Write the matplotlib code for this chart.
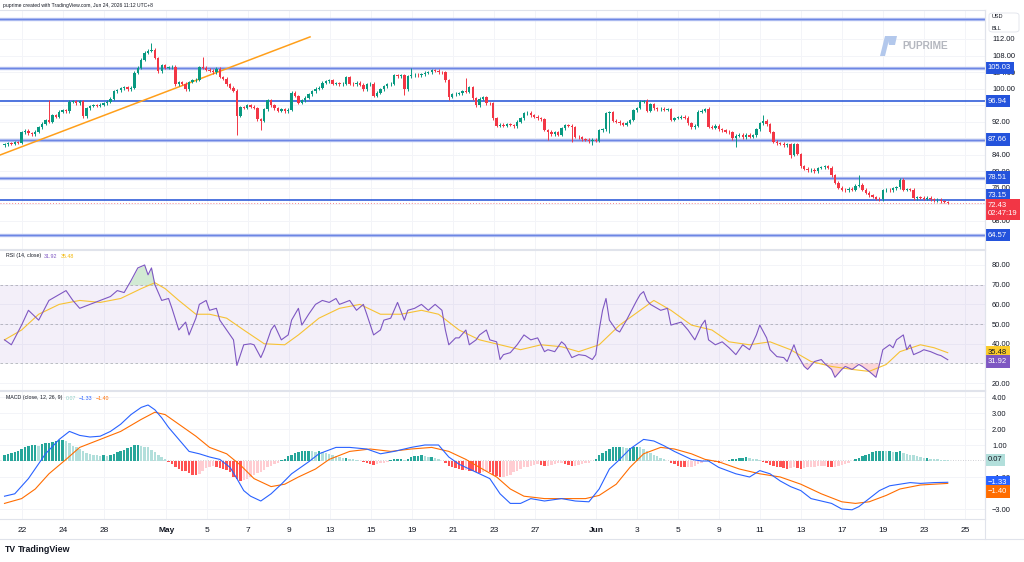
import numpy as np
import matplotlib.pyplot as plt
from matplotlib.patches import Polygon, FancyBboxPatch

plt.rcParams['font.family'] = ['Liberation Sans', 'DejaVu Sans']

# 4h candles, Apr 21 -> Jun 24 (open = previous close)
closes = [
    86.5, 86.8, 86.6, 87.0, 86.9, 89.4, 89.8, 89.2, 89.0, 89.6,
    90.6, 91.5, 92.4, 92.0, 93.6, 93.2, 94.4, 94.8, 94.5, 96.8,
    96.9, 96.5, 97.0, 93.3, 95.2, 95.8, 96.0, 95.8, 96.1, 96.5,
    96.8, 97.5, 99.4, 99.6, 100.1, 100.3, 99.8, 100.2, 103.8, 105.0,
    107.0, 108.7, 109.2, 109.4, 107.4, 104.2, 105.6, 105.0, 105.2, 105.3,
    101.0, 101.5, 101.2, 99.8, 101.6, 102.0, 102.2, 105.2, 105.0, 104.6,
    104.3, 104.0, 104.8, 102.8, 102.4, 101.0, 100.2, 99.5, 93.4, 95.5,
    95.4, 96.0, 95.6, 95.3, 92.6, 92.2, 95.0, 97.2, 96.0, 95.2,
    94.6, 95.0, 94.5, 94.9, 99.0, 98.2, 96.6, 97.2, 97.8, 98.6,
    99.4, 100.0, 100.2, 101.4, 101.8, 102.0, 101.2, 101.3, 101.0, 101.2,
    102.8, 101.2, 101.0, 101.4, 100.9, 99.8, 101.0, 101.2, 98.2, 99.0,
    99.8, 100.6, 101.0, 101.2, 103.3, 103.0, 103.2, 99.8, 103.0, 103.2,
    103.4, 103.2, 103.5, 103.8, 104.0, 104.5, 104.3, 104.0, 103.9, 102.0,
    98.0, 98.6, 98.8, 98.9, 99.4, 99.2, 100.3, 97.7, 96.0, 97.5,
    97.9, 96.5, 96.4, 92.8, 91.0, 91.3, 91.0, 91.4, 91.2, 90.9,
    92.0, 92.8, 94.0, 94.2, 93.5, 93.2, 92.8, 92.6, 90.0, 89.6,
    89.0, 89.4, 88.9, 90.4, 91.2, 91.0, 90.6, 88.4, 88.2, 87.8,
    87.6, 87.3, 87.6, 87.4, 89.9, 90.2, 94.0, 94.3, 92.2, 92.0,
    91.6, 91.2, 91.8, 92.4, 94.8, 95.3, 96.8, 97.0, 94.6, 96.2,
    95.2, 95.0, 95.1, 94.9, 95.0, 92.5, 92.9, 93.0, 93.2, 93.0,
    91.6, 90.6, 91.0, 94.4, 94.6, 95.0, 90.8, 90.5, 91.0, 90.2,
    89.9, 89.6, 89.4, 88.0, 88.6, 88.9, 88.2, 88.8, 88.4, 88.7,
    90.2, 91.6, 92.2, 91.4, 89.5, 87.2, 86.8, 86.7, 86.3, 86.5,
    84.0, 86.6, 84.2, 81.2, 80.6, 80.3, 80.4, 80.0, 80.8, 81.0,
    81.2, 80.9, 79.0, 77.2, 76.0, 75.6, 75.4, 75.8, 75.6, 76.5,
    76.8, 75.6, 74.8, 74.2, 73.8, 73.4, 73.2, 75.4, 75.6, 75.4,
    75.9, 76.2, 78.0, 75.5, 75.7, 75.6, 73.5, 73.7, 73.6, 73.4,
    73.6, 73.2, 73.0, 73.1, 72.8, 72.6, 72.43,
]
first_open = 86.3
long_highs = {13: 97.2, 43: 111.0, 58: 107.6, 119: 105.0, 135: 102.6,
              188: 97.5, 206: 95.6, 222: 93.6, 250: 79.2, 262: 78.3}
long_lows = {68: 88.8, 75: 90.0, 117: 98.5, 130: 97.2, 159: 87.6, 166: 87.2,
             172: 86.3, 177: 89.3, 214: 86.0, 230: 83.2, 256: 72.8}

levels_soft = [116.85, 105.03, 87.66, 78.51, 64.57]
levels_hard = [96.94, 73.15]
trend_x = [-1.3, 89.4]
trend_y = [83.95, 112.5]
last_price = 72.43

# RSI (14) and its MA, read at candle indices
rsi_x = [0, 2, 5, 7, 10, 13, 16, 18, 20, 22, 25, 28, 31, 33, 35, 37, 39, 41, 42, 43, 44, 46, 48, 49,
         51, 53, 54, 56, 57, 59, 60, 62, 63, 65, 67, 68, 70, 72, 73, 75, 76, 78, 79, 81, 83, 84, 86,
         87, 89, 91, 93, 95, 97, 98, 101, 103, 105, 106, 108, 110, 111, 113, 115, 117, 118, 120, 122,
         124, 126, 128, 129, 130, 132, 133, 135, 136, 138, 139, 141, 142, 144, 145, 146, 148, 150, 152,
         154, 156, 158, 159, 161, 163, 164, 166, 168, 170, 172, 173, 174, 175, 176, 177, 179, 180, 182,
         185, 186, 187, 188, 189, 192, 194, 195, 198, 200, 202, 204, 205, 206, 208, 210, 212, 214, 216,
         218, 220, 221, 223, 224, 226, 228, 229, 231, 232, 234, 235, 237, 239, 240, 242, 243, 245, 246,
         248, 250, 251, 253, 255, 256, 257, 259, 260, 261, 263, 264, 265, 266, 268, 269, 271, 273, 274, 276]
rsi_v = [42, 39.5, 49.5, 57, 52, 62, 65, 67, 62, 58, 60, 62, 64, 67, 66, 72, 78.5, 80, 75, 78.5, 70, 62, 63, 58,
         47, 51, 44.5, 53, 60, 62, 57, 58, 52, 47, 42, 29, 39.5, 40, 39.5, 33, 37, 47, 49.5, 42, 44.5, 52, 58,
         49.5, 55, 60, 62, 61, 63, 60, 62, 57, 60, 55, 44.5, 47, 52, 53, 61, 52, 57, 58, 60,
         57, 60, 57, 47, 39.5, 43, 43, 47, 39.5, 42, 44.5, 47, 42, 41, 32, 34.5, 35.5, 39.5, 44.5,
         42, 43, 36, 37, 36, 41, 39.5, 33, 34.5, 34, 32, 34.5, 47, 57, 63, 52, 47, 46, 52,
         62, 65, 66.5, 62, 60, 57, 58, 49.5, 51, 47, 42, 49.5, 52, 42, 39.5, 41, 38, 34.5, 39.5,
         37, 44.5, 49.5, 43, 37, 33.5, 33, 31, 39.5, 34.5, 28.5, 27, 31, 32, 30, 27, 23, 27, 28.5,
         27, 29.5, 28.5, 26, 23, 29.5, 37, 39.5, 38, 42, 44.5, 37, 39.5, 34.5, 36, 37, 36, 34.5, 34, 31.92]
rsi_ma_x = [0, 5, 10, 16, 22, 28, 34, 40, 44, 47, 51, 56, 60, 65, 70, 76, 82, 86, 92, 98, 104, 110, 116,
            122, 127, 133, 139, 145, 151, 157, 163, 168, 174, 180, 186, 190, 195, 201, 207, 212, 218, 224,
            230, 236, 242, 248, 253, 258, 262, 268, 272, 276]
rsi_ma_v = [42, 47, 55, 60, 62, 61, 63, 68, 71, 68, 62, 55, 55, 53, 47, 40, 39.5, 44.5, 53, 58, 60, 55, 55,
            57, 55, 47, 42, 39.5, 37, 39.5, 38.5, 36, 39.5, 49.5, 57, 62, 57, 49.5, 47, 41, 39.5, 41,
            37, 31, 28.5, 27, 26, 29.5, 36, 39.5, 38, 35.48]

# MACD (12, 26, 9)
macd_x = [0, 3, 7, 12, 16, 19, 22, 25, 28, 31, 34, 37, 40, 42, 44, 46, 48, 51, 54, 57, 60, 63, 66, 68, 70,
          72, 75, 78, 81, 84, 86, 89, 92, 97, 101, 106, 110, 114, 119, 123, 127, 130, 133, 136, 139, 142,
          145, 148, 151, 154, 158, 163, 167, 171, 174, 177, 180, 183, 187, 190, 193, 196, 201, 204, 206,
          209, 214, 218, 221, 224, 227, 230, 233, 236, 239, 242, 245, 248, 250, 253, 256, 259, 262, 265,
          268, 272, 276]
macd_v = [-2.2, -2.05, -1.1, 0.45, 1.35, 1.85, 1.6, 1.5, 1.55, 1.85, 2.3, 2.9, 3.35, 3.5, 3.2, 2.7, 2.1, 1.35,
          0.6, 0.45, 0.25, 0.1, -0.4, -1.1, -1.85, -2.2, -2.5, -2.05, -1.45, -0.8, -0.5, -0.05, 0.45, 0.85,
          0.85, 0.75, 0.45, 0.6, 0.85, 1.0, 1.0, 0.25, -0.2, -0.5, -0.8, -1.1, -2.05, -2.65, -2.65, -2.35,
          -2.5, -2.35, -2.5, -2.55, -1.75, -0.5, 0.1, 0.75, 1.35, 1.25, 0.95, 0.6, 0.1, 0.0, 0.0, -0.4, -0.8,
          -1.0, -0.6, -0.8, -1.25, -1.6, -1.85, -2.35, -2.5, -2.65, -3.0, -3.05, -2.85, -2.35, -1.85, -1.55,
          -1.45, -1.35, -1.4, -1.35, -1.33]
signal_x = [0, 5, 9, 13, 18, 22, 28, 34, 40, 44, 47, 51, 56, 60, 65, 69, 73, 78, 82, 86, 91, 95, 101, 107,
            113, 119, 125, 130, 135, 139, 144, 148, 152, 158, 164, 170, 174, 179, 183, 187, 192, 196, 201,
            205, 209, 215, 221, 227, 233, 239, 245, 249, 253, 258, 262, 268, 276]
signal_v = [-2.65, -2.35, -1.75, -0.8, 0.1, 0.85, 1.35, 1.85, 2.6, 3.05, 2.9, 2.3, 1.55, 0.85, 0.45, -0.25,
            -1.1, -1.6, -1.45, -1.0, -0.5, 0.1, 0.6, 0.75, 0.6, 0.75, 0.85, 0.6, 0.1, -0.4, -1.0, -1.75,
            -2.2, -2.35, -2.35, -2.35, -2.15, -1.45, -0.4, 0.45, 0.85, 0.75, 0.45, 0.1, -0.05, -0.5, -0.8,
            -1.0, -1.45, -2.05, -2.55, -2.65, -2.55, -2.15, -1.75, -1.5, -1.40]
hist = [
    0.4, 0.45, 0.5, 0.55, 0.6,
    0.75, 0.9, 0.95, 1.0, 1.0, 0.95, 1.05, 1.1,
    1.15, 1.2, 1.25, 1.3, 1.3, 1.25, 1.1,
    0.95, 0.85, 0.75, 0.6, 0.5, 0.45, 0.4,
    0.35, 0.3, 0.35, 0.3, 0.35, 0.45, 0.55,
    0.65, 0.7, 0.8, 0.9, 1.0, 1.0, 0.95, 0.9,
    0.85, 0.7, 0.55, 0.4, 0.25, 0.1, -0.05,
    -0.2, -0.35, -0.5, -0.6, -0.65, -0.75, -0.85,
    -0.9, -0.8, -0.6, -0.45, -0.35, -0.3, -0.35,
    -0.45, -0.5, -0.55, -0.7, -1.0, -1.15, -1.25, -1.2,
    -1.1, -1.0, -0.85, -0.75, -0.7, -0.55, -0.4, -0.3,
    -0.2, -0.1, 0.05, 0.15, 0.3, 0.4, 0.5,
    0.55, 0.6, 0.6, 0.65, 0.6, 0.55, 0.6, 0.55,
    0.5, 0.45, 0.4, 0.3, 0.25, 0.2, 0.2, 0.15,
    0.1, 0.05, 0.0, -0.05, -0.1, -0.2, -0.25, -0.2,
    -0.15, -0.1, -0.05, 0.05, 0.1, 0.1, 0.15, 0.05,
    0.15, 0.25, 0.3, 0.3, 0.35, 0.3, 0.25, 0.25,
    0.2, 0.1, 0.0, -0.15, -0.3, -0.4, -0.45,
    -0.5, -0.55, -0.55, -0.6, -0.65, -0.7, -0.75, -0.7,
    -0.65, -0.7, -0.85, -0.95, -1.0, -1.0, -0.95, -0.85,
    -0.7, -0.6, -0.5, -0.4, -0.35, -0.3, -0.25, -0.2,
    -0.25, -0.3, -0.3, -0.25, -0.2, -0.15, -0.15, -0.2,
    -0.25, -0.3, -0.3, -0.25, -0.2, -0.15, -0.1,
    0.0, 0.15, 0.35, 0.5, 0.65, 0.75, 0.85,
    0.9, 0.9, 0.85, 0.8, 0.8, 0.85, 0.9, 0.85,
    0.75, 0.6, 0.5, 0.4, 0.3, 0.2, 0.1,
    0.0, -0.1, -0.2, -0.3, -0.35, -0.4, -0.4, -0.35,
    -0.3, -0.2, -0.1, 0.0, 0.05, 0.0, -0.05,
    -0.1, -0.05, 0.0, 0.05, 0.1, 0.15, 0.2, 0.2,
    0.25, 0.2, 0.15, 0.1, 0.05, -0.05, -0.15,
    -0.25, -0.3, -0.35, -0.4, -0.45, -0.5, -0.45, -0.4,
    -0.45, -0.5, -0.45, -0.4, -0.35, -0.35, -0.3, -0.3,
    -0.3, -0.35, -0.4, -0.35, -0.3, -0.25, -0.2, -0.1,
    0.0, 0.1, 0.2, 0.3, 0.4, 0.45, 0.55,
    0.6, 0.6, 0.65, 0.6, 0.6, 0.55, 0.55, 0.6,
    0.5, 0.45, 0.4, 0.35, 0.3, 0.25, 0.2,
    0.2, 0.15, 0.12, 0.1, 0.09, 0.08, 0.07,
]
rsi_last, rsi_ma_last = 31.92, 35.48
macd_last, signal_last, hist_last = -1.33, -1.40, 0.07

date_pos = [5.1, 17.1, 29.1, 47.3, 59.3, 71.3, 83.3, 95.3, 107.3, 119.3, 131.3, 143.3, 155.3,
            173.1, 185.1, 197.1, 209.1, 221.1, 233.1, 245.1, 257.1, 269.1, 281.1]
date_lbl = ['22', '24', '28', 'May', '5', '7', '9', '13', '15', '19', '21', '23', '27',
            'Jun', '3', '5', '9', '11', '13', '17', '19', '23', '25']
price_ticks = list(range(68, 113, 4))
price_hidden = [72, 88, 96]   # covered by the level tags

TXT = '#131722'
GRID = '#f3f4f8'
BORDER = '#e0e3eb'
UP, DN = '#089981', '#f23645'

fig = plt.figure(figsize=(10.24, 5.62), dpi=100)
W, H = 1024, 562
ax1 = fig.add_axes([0, (H - 249) / H, 985 / W, 239 / H])
ax2 = fig.add_axes([0, (H - 390) / H, 985 / W, 140 / H])
ax3 = fig.add_axes([0, (H - 519) / H, 985 / W, 128 / H])

xlim = (-1.32, 286.9)
for ax in (ax1, ax2, ax3):
    ax.set_xlim(*xlim)
    ax.set_xticks(date_pos)
    for s in ax.spines.values():
        s.set_color(BORDER)
        s.set_linewidth(0.8)
    ax.spines['left'].set_visible(False)
    ax.yaxis.tick_right()
    ax.tick_params(axis='y', length=0, labelsize=5.4, colors=TXT, pad=5)
    ax.tick_params(axis='x', length=0)
    ax.grid(True, color=GRID, lw=0.7, zorder=0)
    ax.set_axisbelow(True)
ax1.tick_params(axis='x', labelbottom=False)
ax2.tick_params(axis='x', labelbottom=False)
ax3.set_xticklabels(date_lbl, fontsize=6, color=TXT)
ax3.tick_params(axis='x', pad=6)
for lbl in ax3.get_xticklabels():
    if lbl.get_text() in ('May', 'Jun'):
        lbl.set_fontweight('bold')


def tag(ax, y, txt, fc, tc='white', size=5.5):
    ax.text(1.003, y, txt, transform=ax.get_yaxis_transform(), ha='left', va='center',
            fontsize=size, color=tc, clip_on=False, zorder=20, linespacing=1.3,
            bbox=dict(boxstyle='square,pad=0.35', fc=fc, ec='none'))


# ---- price pane ----
n = len(closes)
x = np.arange(n)
c = np.array(closes)
o = np.r_[first_open, c[:-1]]
top = np.maximum(o, c)
bot = np.minimum(o, c)
hi = top + 0.35
lo = bot - 0.35
for k, v in long_highs.items():
    hi[k] = v
for k, v in long_lows.items():
    lo[k] = v
col = np.where(c >= o, UP, DN)

ax1.set_ylim(61.23, 119.0)
ax1.set_yticks(price_ticks)
ax1.set_yticklabels(['' if v in price_hidden else f'{v:.2f}' for v in price_ticks])

for lv in levels_soft:
    ax1.axhline(lv, color='#aebcf0', lw=2.4, zorder=4)
    ax1.axhline(lv, color='#6d86e4', lw=0.8, zorder=4)
for lv in levels_hard:
    ax1.axhline(lv, color='#1f4fd6', lw=1.1, zorder=4)
ax1.plot(trend_x, trend_y, color='#ff9f1a', lw=1.1, zorder=4)
ax1.axhline(last_price, color='#f23645', lw=0.7, ls=(0, (1, 2)), alpha=0.6, zorder=2)

ax1.vlines(x, lo, hi, color=col, lw=0.7, zorder=5)
ax1.bar(x, np.maximum(top - bot, 0.12), bottom=bot, width=0.7, color=col, zorder=6)

for lv in levels_soft[1:]:
    tag(ax1, lv, f'{lv:.2f}', '#2453dc')
tag(ax1, levels_hard[0], f'{levels_hard[0]:.2f}', '#2453dc')
tag(ax1, levels_hard[1] + 1.1, f'{levels_hard[1]:.2f}', '#2453dc')
tag(ax1, last_price - 1.6, f'{last_price:.2f}\n02:47:19', '#f23645')

# currency box
fig.patches.append(FancyBboxPatch((989 / W, 1 - 32 / H), 30 / W, 19 / H,
                                  boxstyle='round,pad=0,rounding_size=0.004',
                                  transform=fig.transFigure, fc='white', ec=BORDER, lw=0.6))
fig.text(992 / W, 1 - 17 / H, 'USD', fontsize=4, color=TXT, va='center')
fig.text(992 / W, 1 - 28 / H, 'BLL', fontsize=4, color=TXT, va='center')


# watermark
def px(xp, yp):
    return (xp / W, 1 - yp / H)


fig.patches.append(Polygon([px(880, 56), px(885, 56), px(890, 36), px(885, 36)],
                           closed=True, transform=fig.transFigure, fc='#b3c8ec', ec='none'))
fig.patches.append(Polygon([px(887, 36), px(897, 36), px(895, 45), px(889, 45)],
                           closed=True, transform=fig.transFigure, fc='#b3c8ec', ec='none'))
fig.text(902 / W, 1 - 46 / H, 'PUPRIME', fontsize=7.3, fontweight='bold', color='#b4b7bf', va='center')

# ---- RSI pane ----
ax2.set_ylim(16.55, 87.6)
ax2.set_yticks([20, 30, 40, 50, 60, 70, 80])
ax2.set_yticklabels(['20.00', '', '40.00', '50.00', '60.00', '70.00', '80.00'])
ax2.axhspan(30, 70, color='#7e57c2', alpha=0.09, lw=0, zorder=1)
for lv in (70, 50, 30):
    ax2.axhline(lv, color='#9598a1', lw=0.6, ls=(0, (3, 3)), alpha=0.7, zorder=2)
rx, rv = np.array(rsi_x), np.array(rsi_v)
ax2.fill_between(rx, rv, 70, where=rv > 70, interpolate=True, color='#4caf50', alpha=0.25, lw=0, zorder=2)
ax2.fill_between(rx, rv, 30, where=rv < 30, interpolate=True, color='#f23645', alpha=0.2, lw=0, zorder=2)
ax2.plot(rsi_ma_x, rsi_ma_v, color='#f7c234', lw=0.8, zorder=3)
ax2.plot(rx, rv, color='#7e57c2', lw=0.8, zorder=4)
tag(ax2, rsi_ma_last + 0.3, f'{rsi_ma_last:.2f}', '#fbcb2a', TXT)
tag(ax2, rsi_last - 0.9, f'{rsi_last:.2f}', '#7e57c2')

# ---- MACD pane ----
ax3.set_ylim(-3.625, 4.375)
ax3.set_yticks([-3, -1, 1, 2, 3, 4])
ax3.set_yticklabels(['\u22123.00', '\u22121.00', '1.00', '2.00', '3.00', '4.00'])
h = np.array(hist)
prev = np.r_[h[0], h[:-1]]
hcol = np.where(h >= 0, np.where(h >= prev, '#26a69a', '#b2dfdb'),
                np.where(h < prev, '#ff5252', '#ffcdd2'))
ax3.bar(np.arange(len(h)), h, width=0.72, color=hcol, zorder=2)
ax3.axhline(hist_last, color='#9598a1', lw=0.6, ls=(0, (1, 2)), alpha=0.6, zorder=1)
ax3.plot(signal_x, signal_v, color='#ff6d00', lw=0.8, zorder=3)
ax3.plot(macd_x, macd_v, color='#2962ff', lw=0.8, zorder=4)
tag(ax3, hist_last, f'{hist_last:.2f}', '#b2dfdb', TXT)
tag(ax3, macd_last, f'\u2212{abs(macd_last):.2f}', '#2962ff')
tag(ax3, signal_last - 0.5, f'\u2212{abs(signal_last):.2f}', '#ff6d00')

# ---- headers / footer ----
renderer = fig.canvas.get_renderer()


def chain(ypix, parts, x0=6, size=3.8):
    xp = x0
    for s, colr in parts:
        t = fig.text(xp / W, 1 - ypix / H, s, fontsize=size, color=colr, va='center')
        xp = t.get_window_extent(renderer=renderer).x1 + 3


fig.text(3 / W, 1 - 6 / H, 'puprime created with TradingView.com, Jun 24, 2026 11:12 UTC+8',
         fontsize=3.6, color=TXT, va='center')
chain(256, [('RSI (14, close)', TXT), (f'{rsi_last:.2f}', '#7e57c2'), (f'{rsi_ma_last:.2f}', '#f2b705')])
chain(398, [('MACD (close, 12, 26, 9)', TXT), (f'{hist_last:.2f}', '#8fcfc6'),
            (f'\u2212{abs(macd_last):.2f}', '#2962ff'), (f'\u2212{abs(signal_last):.2f}', '#ff6d00')])

fig.add_artist(plt.Line2D([0, 1], [1 - 539 / H, 1 - 539 / H], transform=fig.transFigure, color=BORDER, lw=0.8))
fig.add_artist(plt.Line2D([985 / W, 985 / W], [1 - 539 / H, 1 - 10 / H], transform=fig.transFigure,
                          color=BORDER, lw=0.8))
fig.text(5 / W, 1 - 549 / H, 'TV', fontsize=6.2, fontweight='heavy', color=TXT, va='center')
fig.text(18 / W, 1 - 549 / H, 'TradingView', fontsize=6.4, fontweight='bold', color=TXT, va='center')

fig.savefig('out.png', dpi=100, facecolor='white')
